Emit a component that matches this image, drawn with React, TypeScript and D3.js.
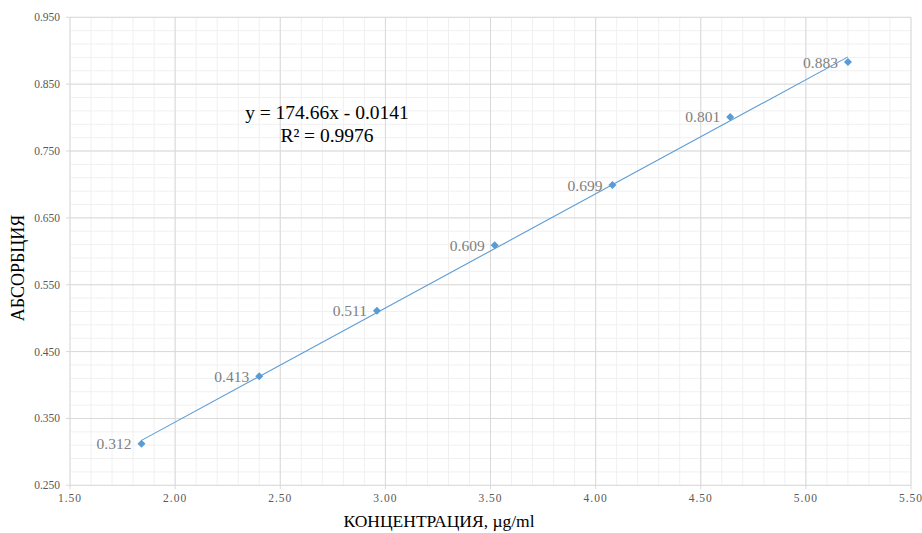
import React from "react";
import * as d3 from "d3";

const concentrations = [1.84, 2.4, 2.96, 3.52, 4.08, 4.64, 5.2];
const absorbance = [0.312, 0.413, 0.511, 0.609, 0.699, 0.801, 0.883];
const xTicks = [1.5, 2.0, 2.5, 3.0, 3.5, 4.0, 4.5, 5.0, 5.5];
const yTicks = [0.25, 0.35, 0.45, 0.55, 0.65, 0.75, 0.85, 0.95];
const equationLines = ["y = 174.66x - 0.0141", "R² = 0.9976"];
const xTitle = "КОНЦЕНТРАЦИЯ, µg/ml";
const yTitle = "АБСОРБЦИЯ";

const W = 922;
const H = 533;
const M = { left: 70, right: 911, top: 17.3, bottom: 485.3 };
const BLUE = "#5b9bd5";
const SERIF = "\"Liberation Serif\", \"Times New Roman\", Tinos, \"DejaVu Serif\", serif";

export default function App() {
  const x = d3.scaleLinear().domain([1.5, 5.5]).range([M.left, M.right]);
  const y = d3.scaleLinear().domain([0.25, 0.95]).range([M.bottom, M.top]);

  const xMinor = d3.range(15, 56, 1).map((v) => v / 10);
  const yMinor = d3.range(125, 476, 10).map((v) => v / 500);

  // linear regression from data
  const mx = d3.mean(concentrations)!;
  const my = d3.mean(absorbance)!;
  let sxy = 0, sxx = 0;
  concentrations.forEach((c, i) => {
    sxy += (c - mx) * (absorbance[i] - my);
    sxx += (c - mx) * (c - mx);
  });
  const slope = sxy / sxx;
  const icpt = my - slope * mx;
  const x0 = concentrations[0];
  const x1 = concentrations[concentrations.length - 1];
  const trend = d3.line<number>().x((d) => x(d)).y((d) => y(slope * d + icpt));

  const diamond = d3.symbol().type(d3.symbolSquare).size(32)();

  const serif = { fontFamily: SERIF };

  return (
    <svg width={W} height={H} style={{ position: "absolute", left: 0, top: 0, background: "#fff" }}>
      <rect x={0} y={0} width={W} height={H} fill="#fff" />
      {/* minor grid */}
      {xMinor.map((v, i) => (
        <line key={"xm" + i} x1={x(v)} x2={x(v)} y1={M.top} y2={M.bottom} stroke="#f0f0f0" strokeWidth={1} />
      ))}
      {yMinor.map((v, i) => (
        <line key={"ym" + i} x1={M.left} x2={M.right} y1={y(v)} y2={y(v)} stroke="#f0f0f0" strokeWidth={1} />
      ))}
      {/* major grid */}
      {xTicks.map((v, i) => (
        <line key={"xM" + i} x1={x(v)} x2={x(v)} y1={M.top} y2={M.bottom + 4} stroke="#d9d9d9" strokeWidth={1} />
      ))}
      {yTicks.map((v, i) => (
        <line key={"yM" + i} x1={M.left - 4} x2={M.right} y1={y(v)} y2={y(v)} stroke="#d9d9d9" strokeWidth={1} />
      ))}
      {/* tick labels */}
      {xTicks.map((v, i) => (
        <text key={"xl" + i} x={x(v)} y={M.bottom + 17} textAnchor="middle" style={serif} fontSize={11.5} fill="#595959" letterSpacing={1}>
          {v.toFixed(2)}
        </text>
      ))}
      {yTicks.map((v, i) => (
        <text key={"yl" + i} x={M.left - 10} y={y(v)} dy="0.35em" textAnchor="end" style={serif} fontSize={11.5} fill="#595959">
          {v.toFixed(3)}
        </text>
      ))}
      {/* trendline */}
      <path d={trend([x0, x1]) || ""} fill="none" stroke={BLUE} strokeWidth={1.1} />
      {/* points */}
      {concentrations.map((c, i) => (
        <path key={"p" + i} d={diamond || ""} transform={`translate(${x(c)},${y(absorbance[i])}) rotate(45)`} fill={BLUE} />
      ))}
      {/* data labels */}
      {concentrations.map((c, i) => (
        <text key={"dl" + i} x={x(c) - 10} y={y(absorbance[i])} dy="0.35em" textAnchor="end" style={serif} fontSize={15.5} fill="#7f7f7f">
          {absorbance[i].toFixed(3)}
        </text>
      ))}
      {/* equation */}
      {equationLines.map((t, i) => (
        <text key={"eq" + i} x={327} y={112 + i * 23} dy="0.35em" textAnchor="middle" style={serif} fontSize={19.5} fill="#000">
          {t}
        </text>
      ))}
      {/* axis titles */}
      <text x={439} y={521} dy="0.35em" textAnchor="middle" style={serif} fontSize={17.5} fill="#000">
        {xTitle}
      </text>
      <text transform={`translate(18,268) rotate(-90)`} dy="0.35em" textAnchor="middle" style={serif} fontSize={18} fill="#000">
        {yTitle}
      </text>
    </svg>
  );
}
